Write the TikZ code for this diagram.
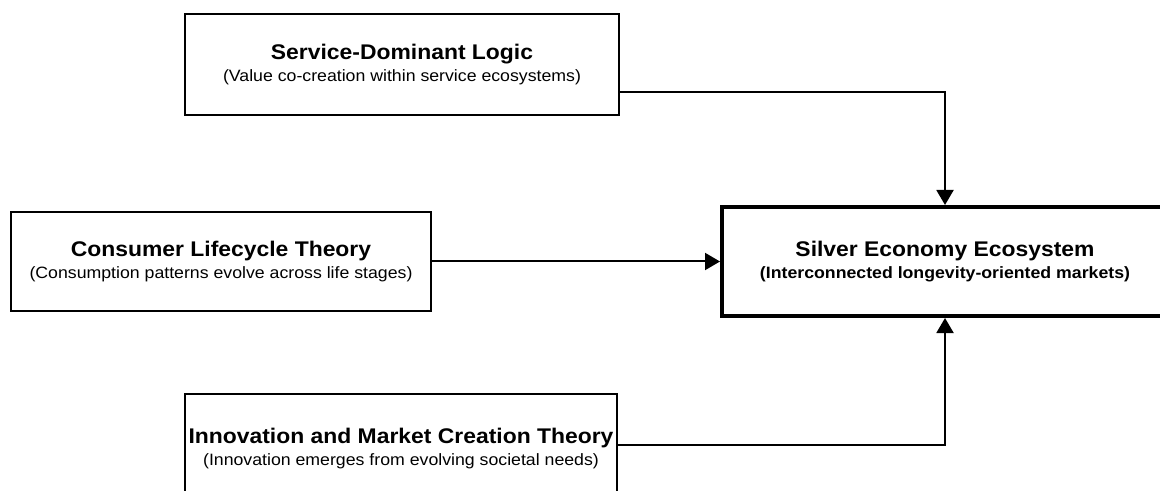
\documentclass[tikz,border=0pt]{standalone}
\usepackage{fontspec}
\setmainfont{Liberation Sans}[FakeStretch=1.08]
\usetikzlibrary{arrows.meta,calc}
\newcommand{\ttl}[1]{{\fontsize{10.6}{10}\selectfont\bfseries #1}}
\begin{document}
\begin{tikzpicture}[x=0.5pt,y=-0.5pt,
  box/.style={draw=black, line width=1pt, fill=white, inner sep=0pt, align=center,
    font=\fontsize{8.2}{11}\selectfont},
  mainbox/.style={box, line width=2pt, font=\fontsize{8.2}{11}\selectfont\bfseries},
  conn/.style={draw=black, line width=1pt, -{Triangle[length=7.5pt,width=8.5pt]}}]
\clip (0,0) rectangle (1160,491);
\fill[white] (0,0) rectangle (1160,491);

\node[box, minimum width=217pt, minimum height=50.5pt] (sdl) at (402,64.5)
  {\ttl{Service-Dominant Logic}\\(Value co-creation within service ecosystems)};
\node[box, minimum width=210pt, minimum height=49.5pt] (clt) at (221,261.5)
  {\ttl{Consumer Lifecycle Theory}\\(Consumption patterns evolve across life stages)};
\node[mainbox, minimum width=223pt, minimum height=54.5pt] (sil) at (945,261.5)
  {\ttl{Silver Economy Ecosystem}\\(Interconnected longevity-oriented markets)};
\node[box, minimum width=216pt, minimum height=55pt] (imc) at (401,449)
  {\ttl{Innovation and Market Creation Theory}\\(Innovation emerges from evolving societal needs)};

\draw[conn] ($(sdl.east)+(0,27.5)$) -| (sil.north);
\draw[conn] (clt.east) -- (sil.west);
\draw[conn] ($(imc.east)+(0,-4)$) -| (sil.south);
\end{tikzpicture}
\end{document}
